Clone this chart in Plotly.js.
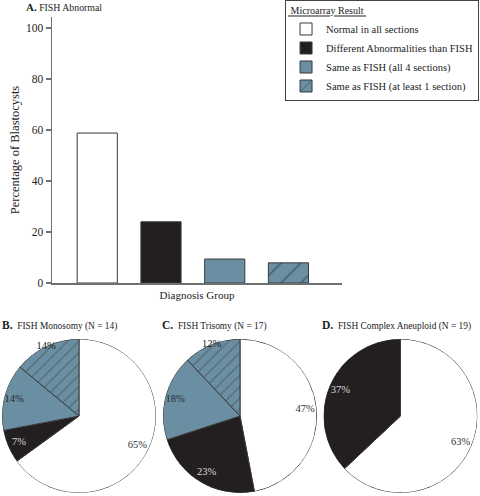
<!DOCTYPE html>
<html><head><meta charset="utf-8">
<script src="https://cdn.plot.ly/plotly-3.0.1.min.js"></script>
<style>html,body{margin:0;padding:0;background:#fff}#chart{width:480px;height:496px}</style>
</head><body><div id="chart"></div>
<script>
// ---- data ----
var resultNames = ["Normal in all sections", "Different Abnormalities than FISH", "Same as FISH (all 4 sections)", "Same as FISH (at least 1 section)"];
var barValues = [58.8, 24, 9.4, 7.9];
var monosomyPct = [65, 7, 14, 14];
var trisomyPct = [47, 23, 18, 12];
var complexPct = [63, 37];
var panelLetters = ["A.", "B.", "C.", "D."];
var panelTitles = ["FISH Abnormal", "FISH Monosomy (N = 14)", "FISH Trisomy (N = 17)", "FISH Complex Aneuploid (N = 19)"];
var yTicks = [0, 20, 40, 60, 80, 100];

// ---- styles ----
var fills = ["#ffffff", "#231f20", "#6a8fa3", "#6a8fa3"];
var labelColors = ["#333333", "#d8d8d8", "#2a2a2a", "#222222"];
var labelRadius = [0.85, 0.85, 0.87, 1.0];
var edge = "#3a3a3a";
var serif = "'Liberation Serif', 'Times New Roman', Times, serif";

var traces = [];
resultNames.forEach(function (name, i) {
  var marker = {color: fills[i], line: {color: edge, width: 1}};
  if (i === 3) marker.pattern = {shape: "/", fgcolor: "#16202a", bgcolor: "#6a8fa3", size: 14, solidity: 0.1, fillmode: "overlay"};
  traces.push({
    type: "bar", x: [i], y: [barValues[i]], name: name, marker: marker,
    width: 0.63, xaxis: "x", yaxis: "y", hoverinfo: "skip"
  });
});

// pies drawn as polar sectors so that percentage labels can sit near the rim
var polarLayouts = {};
function pieTraces(vals, dom, k) {
  var n = vals.length;
  var total = vals.reduce(function (a, b) { return a + b; }, 0);
  var cum = 0, theta = [], widths = [];
  vals.forEach(function (v) { theta.push((cum + v / 2) / total * 360); widths.push(v / total * 360); cum += v; });
  var name = "polar" + (k === 1 ? "" : k);
  var sectors = {
    type: "barpolar", subplot: name, r: vals.map(function () { return 1; }), theta: theta, width: widths,
    marker: {color: fills.slice(0, n), line: {color: edge, width: 1},
      pattern: {shape: vals.map(function (v, i) { return i === 3 ? "/" : ""; }), fgcolor: "#16202a", size: 8, solidity: 0.16, fillmode: "overlay"}},
    showlegend: false, hoverinfo: "skip"
  };
  var txt = {
    type: "scatterpolar", subplot: name, mode: "text",
    r: labelRadius.slice(0, n), theta: theta,
    text: vals.map(function (v) { return v + "%"; }),
    textfont: {family: serif, size: 10.5, color: labelColors.slice(0, n)},
    showlegend: false, hoverinfo: "skip", cliponaxis: false
  };
  polarLayouts[name] = {
    domain: dom, bgcolor: "rgba(0,0,0,0)", bargap: 0,
    radialaxis: {visible: false, range: [0, 1]},
    angularaxis: {visible: false, rotation: 90, direction: "clockwise"}
  };
  return [sectors, txt];
}
var pieDomY = [3/496, 157/496];
traces = traces.concat(pieTraces(monosomyPct, {x: [2/480, 156/480], y: pieDomY}, 1));
traces = traces.concat(pieTraces(trisomyPct, {x: [163/480, 317/480], y: pieDomY}, 2));
traces = traces.concat(pieTraces(complexPct, {x: [323/480, 478/480], y: pieDomY}, 3));

var titlePos = [[24/480, 1 - 7/496], [0, 1 - 325/496], [160/480, 1 - 325/496], [320/480, 1 - 325/496]];
var ann = panelTitles.map(function (t, i) {
  return {
    text: "<b><span style='font-size:" + (i === 0 ? 11 : 11.5) + "px'>" + panelLetters[i] + "</span></b> " + (i === 0 ? "" : " ") + t,
    x: titlePos[i][0], y: titlePos[i][1], xref: "paper", yref: "paper", xanchor: "left", yanchor: "middle",
    showarrow: false, font: {family: serif, size: i === 0 ? 9.8 : 9.4, color: "#222"}
  };
});

var layout = {
  width: 480, height: 496, margin: {l: 0, r: 0, t: 0, b: 0},
  paper_bgcolor: "#fff", plot_bgcolor: "#fff",
  font: {family: serif, color: "#222", size: 12},
  barmode: "overlay",
  xaxis: {domain: [52/480, 342/480], range: [-0.71, 3.84], showticklabels: false, ticks: "", showgrid: false, zeroline: false,
    showline: true, linecolor: "#707070", linewidth: 1.5,
    title: {text: "Diagnosis Group", font: {family: serif, size: 11, color: "#222"}, standoff: 8}},
  yaxis: {domain: [1 - 283/496, 1 - 17/496], range: [0, 104.3], tickvals: yTicks, ticks: "outside", ticklen: 5, tickcolor: "#707070", tickwidth: 1.2,
    showgrid: false, zeroline: false, showline: true, linecolor: "#707070", linewidth: 1.5,
    tickfont: {family: serif, size: 11.5, color: "#222"},
    title: {text: "Percentage of Blastocysts", font: {family: serif, size: 12.5, color: "#222"}, standoff: 3}},
  legend: {x: 0.998, y: 0.999, xanchor: "right", yanchor: "top", bordercolor: "#444", borderwidth: 1, bgcolor: "#fff",
    font: {family: serif, size: 10.5, color: "#222"}, tracegroupgap: 0, itemwidth: 30,
    title: {text: "<span style='text-decoration:underline'> Microarray Result </span>", font: {family: serif, size: 10, color: "#222"}}},
  annotations: ann
};
Object.keys(polarLayouts).forEach(function (k) { layout[k] = polarLayouts[k]; });

Plotly.newPlot("chart", traces, layout, {displayModeBar: false, staticPlot: true});
</script></body></html>
